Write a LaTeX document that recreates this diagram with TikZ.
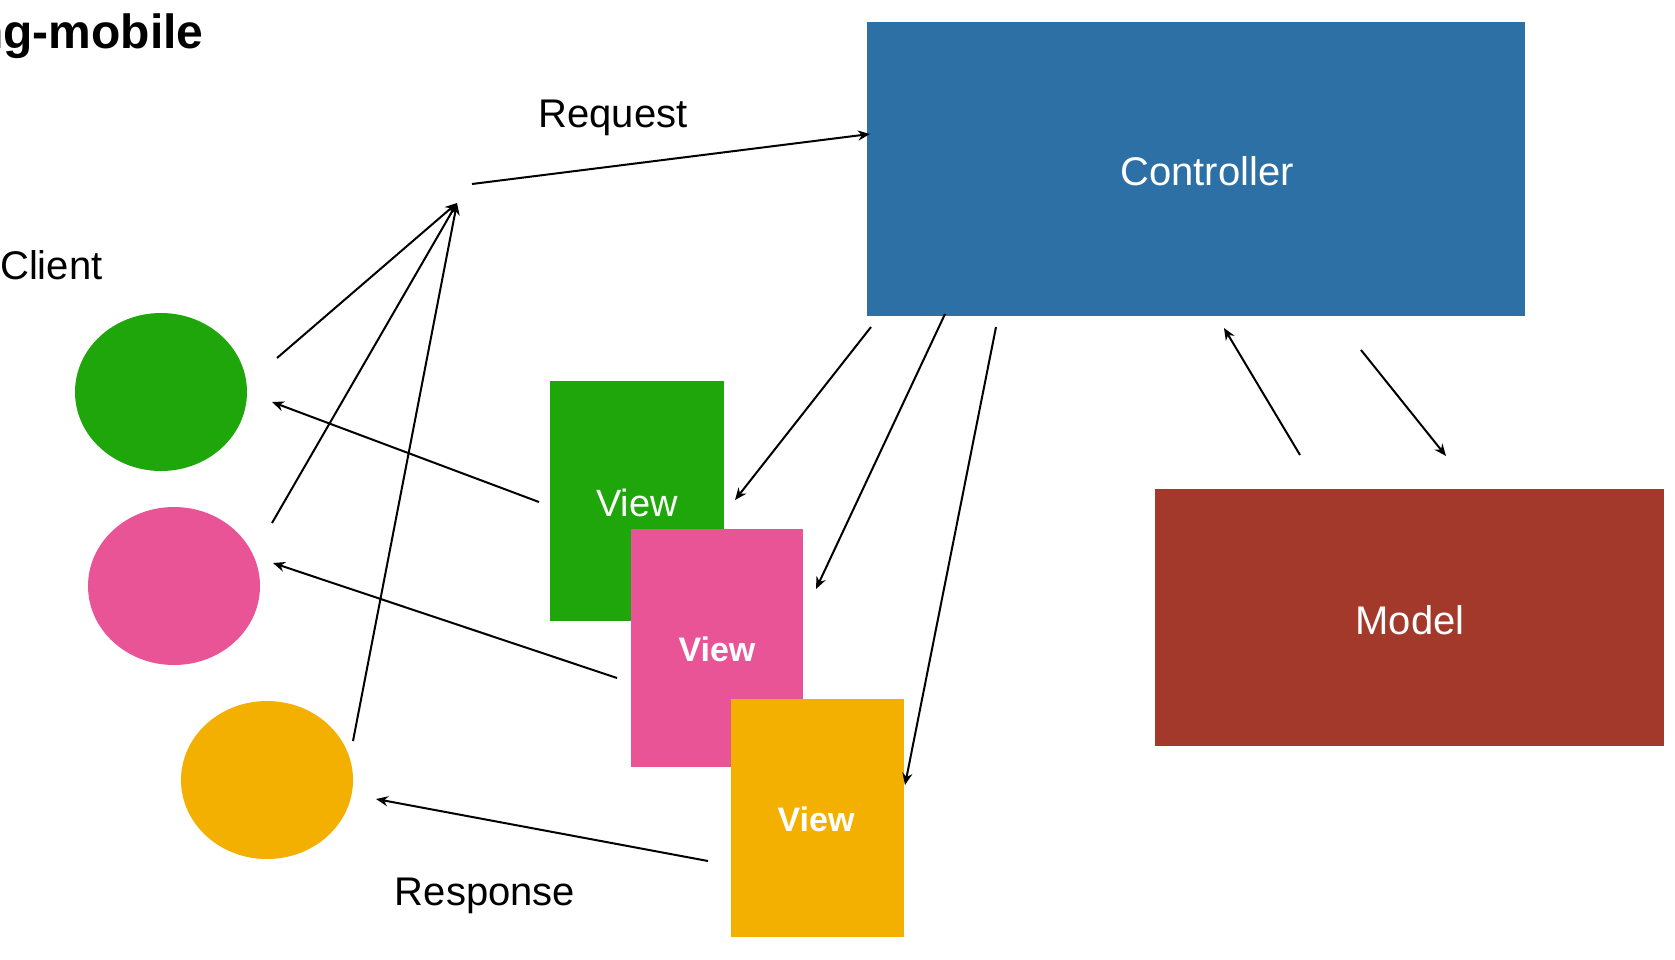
\documentclass[tikz,border=0pt]{standalone}
\usepackage{fontspec}
\setmainfont{Liberation Sans}
\usetikzlibrary{shapes.geometric,arrows.meta}
\definecolor{ctrlblue}{HTML}{2C70A6}
\definecolor{modelred}{HTML}{A3392B}
\definecolor{cgreen}{HTML}{1FA60A}
\definecolor{cpink}{HTML}{E95497}
\definecolor{corange}{HTML}{F4B000}
\begin{document}
\begin{tikzpicture}[x=1pt,y=-1pt,
  conn/.style={line width=2pt,-{Stealth[length=12pt,width=10pt]}},
  lbl/.style={font=\fontsize{40}{48}\selectfont,inner sep=0pt},
  boxlbl/.style={font=\fontsize{40}{48}\selectfont,inner sep=0pt,text=white},
  viewlbl/.style={font=\bfseries\fontsize{34}{40}\selectfont,inner sep=0pt,text=white},
  client/.style={ellipse,draw=none,minimum width=172pt,minimum height=158pt,inner sep=0pt},
  panel/.style={rectangle,draw=none,inner sep=0pt}]
\useasboundingbox (0,0) rectangle (1675,959);
\clip (0,0) rectangle (1675,959);
\fill[white] (0,0) rectangle (1675,959);

% title and labels
\node[anchor=base west,font=\bfseries\fontsize{48}{56}\selectfont,inner sep=0pt] (title) at (-26,48) {ng-mobile};
\node[lbl,anchor=west] (clientlbl) at (0,265) {Client};
\node[lbl] (reqlbl) at (613,118) {Request};
\node[lbl] (resplbl) at (485,896) {Response};

% controller and model
\node[panel,fill=ctrlblue,minimum width=658pt,minimum height=294pt] (ctrl) at (1196,169) {};
\node[boxlbl] (ctrltext) at (1207,171) {Controller};
\node[panel,fill=modelred,minimum width=509pt,minimum height=257pt] (model) at (1409.5,617.5) {};
\node[boxlbl] (modeltext) at (1410,620) {Model};

% clients
\node[client,fill=cgreen] (cg) at (161,392) {};
\node[client,fill=cpink] (cp) at (174,586) {};
\node[client,fill=corange] (co) at (267,780) {};

% views
\node[panel,fill=cgreen,minimum width=174pt,minimum height=240pt] (vg) at (637,501) {};
\node[boxlbl,font=\fontsize{38}{44}\selectfont] (vgt) at (637,503) {View};
\node[panel,fill=cpink,minimum width=172pt,minimum height=238pt] (vp) at (717,648) {};
\node[viewlbl] (vpt) at (717,649) {View};
\node[panel,fill=corange,minimum width=173pt,minimum height=238pt] (vo) at (817.5,818) {};
\node[viewlbl] (vot) at (816,819) {View};

% connector end points
\coordinate (hub) at (457,203);
\coordinate (reqS) at (472,184);
\coordinate (reqE) at (870,134);
\coordinate (cgOut) at (277,358);
\coordinate (cpOut) at (272,523);
\coordinate (coOut) at (353,741);
\coordinate (cgIn) at (272,402);
\coordinate (cpIn) at (273,563);
\coordinate (coIn) at (376,799);
\coordinate (vgOut) at (539,502);
\coordinate (vpOut) at (617,678);
\coordinate (voOut) at (708,861);
\coordinate (c1) at (871,327);
\coordinate (c2) at (945,314);
\coordinate (c3) at (996,327);
\coordinate (vgIn) at (735,500);
\coordinate (vpIn) at (816,589);
\coordinate (voIn) at (905,785);
\coordinate (mUp) at (1300,455);
\coordinate (cIn) at (1224,328);
\coordinate (cOut) at (1361,350);
\coordinate (mIn) at (1446,456);

% connectors
\draw[conn] (reqS) -- (reqE);
\draw[conn] (cgOut) -- (hub);
\draw[conn] (cpOut) -- (hub);
\draw[conn] (coOut) -- (hub);
\draw[conn] (vgOut) -- (cgIn);
\draw[conn] (vpOut) -- (cpIn);
\draw[conn] (voOut) -- (coIn);
\draw[conn] (c1) -- (vgIn);
\draw[conn] (c2) -- (vpIn);
\draw[conn] (c3) -- (voIn);
\draw[conn] (mUp) -- (cIn);
\draw[conn] (cOut) -- (mIn);
\end{tikzpicture}
\end{document}
